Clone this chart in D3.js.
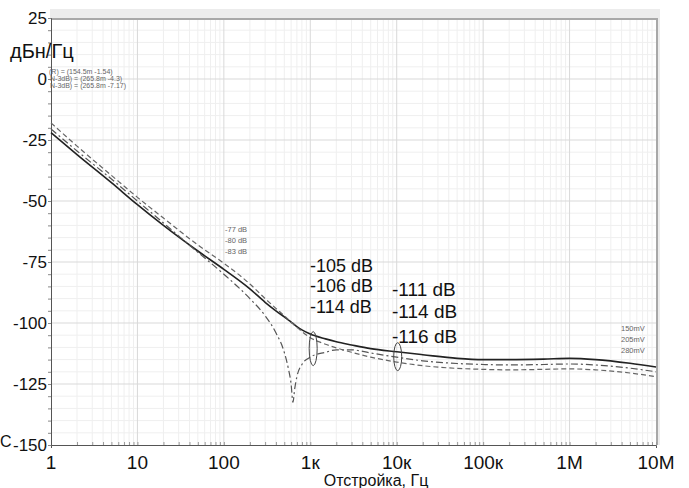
<!DOCTYPE html>
<html><head><meta charset="utf-8">
<script src="https://cdn.jsdelivr.net/npm/d3@7"></script>
<style>
html,body{margin:0;padding:0;background:#fff;}
svg{display:block;font-family:"Liberation Sans",Arial,sans-serif;}
</style></head>
<body><svg id="c" width="689" height="488"></svg>
<script>
// ---- data ----
const freqs = [1,2,5,10,20,50,100,200,300,400,500,560,600,630,660,700,800,1000,1500,2000,3000,5000,1e4,2e4,5e4,1e5,2e5,5e5,1e6,2e6,5e6,1e7];
const solid150 = [-22,-31,-42.5,-51.5,-60,-70.5,-78,-86,-91.5,-95,-97.5,-98.8,-99.6,-100.2,-100.8,-101.5,-102.8,-104.5,-106.5,-107.7,-109,-110.5,-111.8,-113,-114.5,-115,-115,-114.8,-114.5,-115,-116.5,-118];
const dash280 = [-18,-27.5,-39.5,-48.5,-57,-68,-75.5,-84,-90,-94,-97,-98.6,-99.6,-100.3,-101,-101.8,-103.5,-106,-108.7,-110.2,-112,-114,-116,-117.5,-118.6,-119,-119.2,-119,-118.8,-119.2,-120.5,-122];
const dashdot205 = [-20.5,-29.5,-41,-50,-59,-71,-80,-90,-97,-104,-112,-119,-125,-132.5,-127,-122,-117,-114,-112,-111,-111,-112.3,-114,-115.5,-116.6,-117,-117.2,-117,-116.8,-117.2,-118.5,-120];
const xTicks = [1,10,100,1e3,1e4,1e5,1e6,1e7];
const xTickLabels = ["1","10","100","1к","10к","100к","1M","10M"];
const yTicks = [25,0,-25,-50,-75,-100,-125,-150];
const marks1k = ["-105 dB","-106 dB","-114 dB"];
const marks10k = ["-111 dB","-114 dB","-116 dB"];
const marks100 = ["-77 dB","-80 dB","-83 dB"];
const legendV = ["150mV","205mV","280mV"];
const cursorTxt = ["(R) = (154.5m -1.54)","N-3dB) = (265.8m -4.3)","N-3dB) = (265.8m -7.17)"];

// ---- layout ----
const svg = d3.select("#c");
const L=51, R=656, T=18, B=445;
const x = d3.scaleLog().domain([1,1e7]).range([L,R]);
const y = d3.scaleLinear().domain([-150,25]).range([B,T]);

// top band and right frame
svg.append("rect").attr("x",L-1).attr("y",9).attr("width",R-L+5).attr("height",T-9).attr("fill","#ececec");
svg.append("rect").attr("x",R).attr("y",9).attr("width",4).attr("height",B-9).attr("fill","#ececec");

// minor grid
const minorX=[];
for(let d=0; d<7; d++) for(let k=2;k<=9;k++) minorX.push(k*Math.pow(10,d));
const g = svg.append("g");
g.selectAll(".mx").data(minorX).join("line")
  .attr("x1",d=>x(d)).attr("x2",d=>x(d)).attr("y1",T).attr("y2",B)
  .attr("stroke","#efefef").attr("stroke-width",1);
const minorY = d3.range(-150,25,5).filter(v=>v%25!==0);
g.selectAll(".my").data(minorY).join("line")
  .attr("x1",L).attr("x2",R).attr("y1",d=>y(d)).attr("y2",d=>y(d))
  .attr("stroke","#efefef").attr("stroke-width",1);
// major grid
g.selectAll(".Mx").data(xTicks.slice(1,-1)).join("line")
  .attr("x1",d=>x(d)).attr("x2",d=>x(d)).attr("y1",T).attr("y2",B)
  .attr("stroke","#d9d9d9").attr("stroke-width",1);
g.selectAll(".My").data(yTicks.slice(1,-1)).join("line")
  .attr("x1",L).attr("x2",R).attr("y1",d=>y(d)).attr("y2",d=>y(d))
  .attr("stroke","#d9d9d9").attr("stroke-width",1);

// frame
svg.append("line").attr("x1",L).attr("x2",R+2).attr("y1",T+1).attr("y2",T+1).attr("stroke","#a8a8a8").attr("stroke-width",2);
svg.append("line").attr("x1",R+1).attr("x2",R+1).attr("y1",T).attr("y2",B).attr("stroke","#a8a8a8").attr("stroke-width",2);

// axes
const ax = svg.append("g").attr("transform",`translate(0,${B})`)
  .call(d3.axisBottom(x).tickValues(minorX.concat(xTicks)).tickSize(3).tickFormat(""));
ax.select(".domain").attr("stroke","#555");
ax.selectAll(".tick line").attr("stroke","#999").attr("transform","translate(0,-3)");
const ay = svg.append("g").attr("transform",`translate(${L},0)`)
  .call(d3.axisLeft(y).tickValues(d3.range(-150,26,5)).tickSize(3).tickFormat(""));
ay.select(".domain").attr("stroke","#555");
ay.selectAll(".tick line").attr("stroke","#888");

// tick labels
svg.selectAll(".yl").data(yTicks).join("text")
  .attr("x",47).attr("y",d=>y(d)+6).attr("text-anchor","end")
  .attr("font-size",17).attr("fill","#111").text(d=>d);
svg.selectAll(".xl").data(xTicks).join("text")
  .attr("x",d=>x(d)).attr("y",469).attr("text-anchor","middle")
  .attr("font-size",19).attr("fill","#111")
  .text((d,i)=>xTickLabels[i]);
svg.append("text").attr("x",376).attr("y",486).attr("text-anchor","middle")
  .attr("font-size",16).attr("fill","#111").text("Отстройка, Гц");
svg.append("text").attr("x",10).attr("y",58).attr("font-size",20).attr("fill","#111").text("дБн/Гц");
svg.append("text").attr("x",0).attr("y",447).attr("font-size",16).attr("fill","#111").text("C");

// curves
const line = d3.line().x(d=>x(d[0])).y(d=>y(d[1])).curve(d3.curveMonotoneX);
const series = [
  {v:solid150, dash:null, w:1.6, c:"#222"},
  {v:dashdot205, dash:"7,3,2,3", w:1.2, c:"#555"},
  {v:dash280, dash:"5,3", w:1.2, c:"#666"}
];
svg.selectAll(".curve").data(series).join("path")
  .attr("d",s=>line(freqs.map((f,i)=>[f,s.v[i]])))
  .attr("fill","none").attr("stroke",d=>d.c).attr("stroke-width",d=>d.w)
  .attr("stroke-dasharray",d=>d.dash);

// ellipses
svg.append("ellipse").attr("cx",x(1080)).attr("cy",y(-110.5)).attr("rx",4).attr("ry",17)
  .attr("fill","none").attr("stroke","#444").attr("stroke-width",1);
svg.append("ellipse").attr("cx",x(10000)+1).attr("cy",y(-113.8)).attr("rx",4).attr("ry",14)
  .attr("fill","none").attr("stroke","#444").attr("stroke-width",1);

// big annotations
svg.selectAll(".m1").data(marks1k).join("text")
  .attr("x",310).attr("y",(d,i)=>[272,292,313][i]).attr("font-size",18).attr("fill","#111").text(d=>d);
svg.selectAll(".m2").data(marks10k).join("text")
  .attr("x",392).attr("y",(d,i)=>[296,318,343][i]).attr("font-size",19).attr("fill","#111").text(d=>d);

// small annotations
svg.selectAll(".m3").data(marks100).join("text")
  .attr("x",225).attr("y",(d,i)=>232+i*11).attr("font-size",7.5).attr("fill","#666").text(d=>d);
svg.selectAll(".lg").data(legendV).join("text")
  .attr("x",621).attr("y",(d,i)=>331+i*11).attr("font-size",7.5).attr("fill","#666").text(d=>d);
svg.selectAll(".cur").data(cursorTxt).join("text")
  .attr("x",(d,i)=>i===0?49:50).attr("y",(d,i)=>74+i*7).attr("font-size",7).attr("fill","#666").text(d=>d);
</script></body></html>
